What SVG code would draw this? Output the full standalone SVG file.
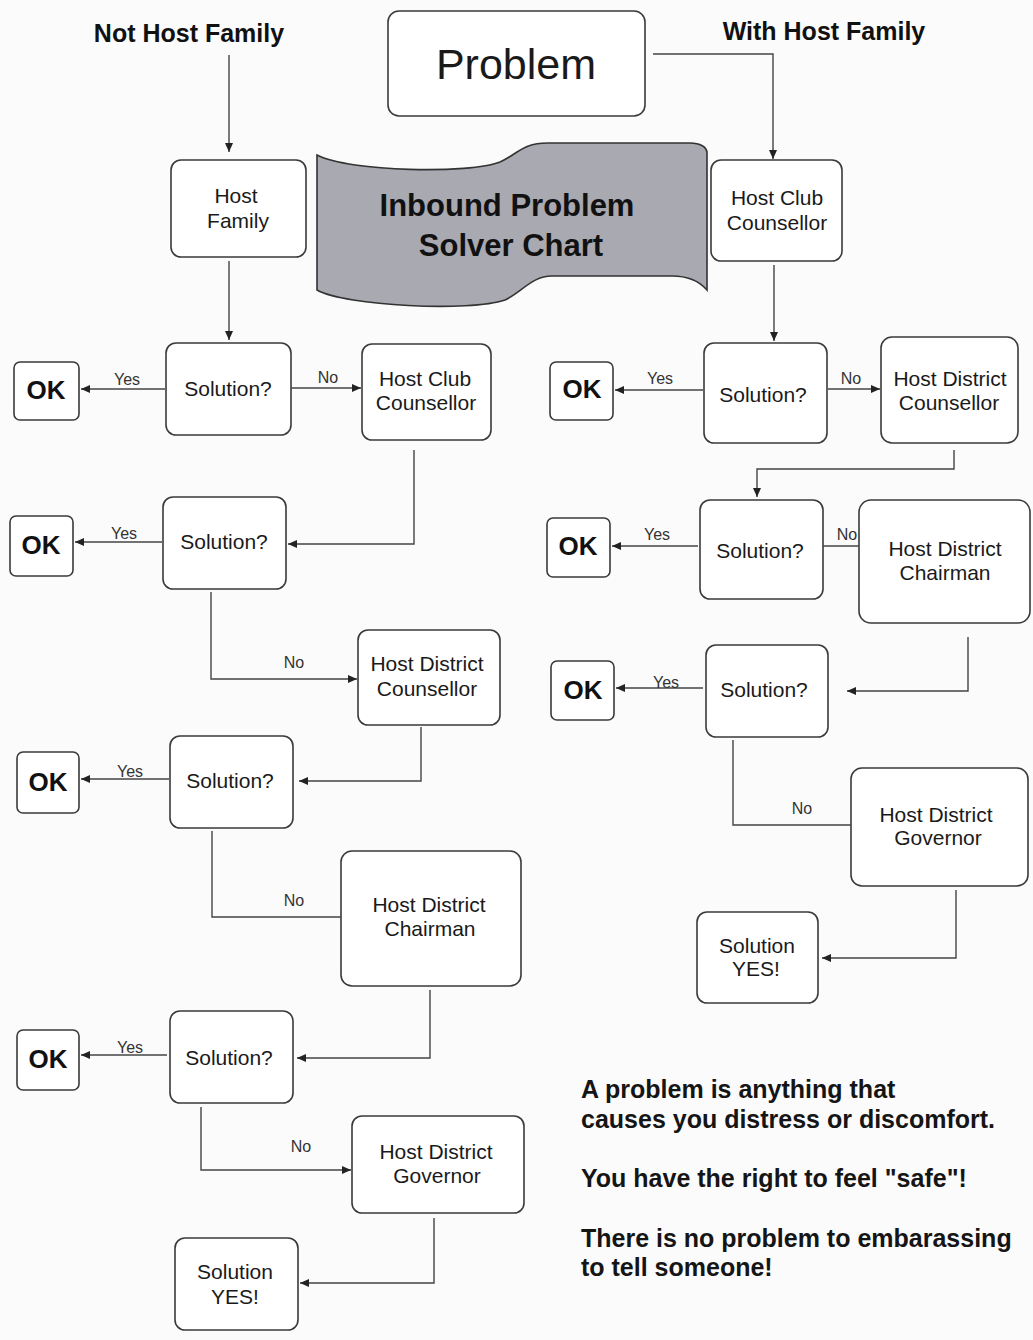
<svg xmlns="http://www.w3.org/2000/svg" width="1033" height="1340" viewBox="0 0 1033 1340">
<style>
.box{fill:#ffffff;stroke:#3a3a3a;stroke-width:1.6}
.t{font-family:"Liberation Sans",Arial,sans-serif;font-size:21px;fill:#1a1a1a;text-anchor:middle}
.ok{font-family:"Liberation Sans",Arial,sans-serif;font-size:26px;font-weight:bold;fill:#111;text-anchor:middle}
.lbl{font-family:"Liberation Sans",Arial,sans-serif;font-size:16px;fill:#333;text-anchor:middle}
.hd{font-family:"Liberation Sans",Arial,sans-serif;font-size:25px;font-weight:bold;fill:#111;text-anchor:middle}
.note{font-family:"Liberation Sans",Arial,sans-serif;font-size:25px;font-weight:bold;fill:#151515}
.c{fill:none;stroke:#444;stroke-width:1.4}
.ca{fill:none;stroke:#444;stroke-width:1.4;marker-end:url(#ah)}
</style>
<defs>
<marker id="ah" markerUnits="userSpaceOnUse" markerWidth="10" markerHeight="10" refX="9" refY="5" orient="auto">
<path d="M0,1 L9,5 L0,9 Z" fill="#222"/>
</marker>
</defs>
<rect x="0" y="0" width="1033" height="1340" fill="#fbfbfb"/>

<g id="headings">
<text class="hd" x="189" y="42">Not Host Family</text>
<text class="hd" x="824" y="40">With Host Family</text>
</g>

<g id="problem">
<rect class="box" x="388" y="11" width="257" height="105" rx="11"/>
<text x="516" y="79" font-family="'Liberation Sans',Arial,sans-serif" font-size="43" fill="#1a1a1a" text-anchor="middle">Problem</text>
</g>

<g id="banner">
<path d="M317,155 C350,172 470,174 500,162 C518,154 522,143 548,143 L690,143 C700,143 707,147 707,153 L707,290 C700,282 690,276 672,276 L552,276 C532,276 522,292 505,300 C470,312 345,306 317,290 Z" fill="#a9a9b1" stroke="#333" stroke-width="1.6"/>
<text x="507" y="216" font-family="'Liberation Sans',Arial,sans-serif" font-size="31" font-weight="bold" fill="#111" text-anchor="middle">Inbound Problem</text>
<text x="511" y="256" font-family="'Liberation Sans',Arial,sans-serif" font-size="31" font-weight="bold" fill="#111" text-anchor="middle">Solver Chart</text>
</g>

<!-- Left column nodes -->
<g id="host-family">
<rect class="box" x="171" y="160" width="135" height="97" rx="10"/>
<text class="t" x="236" y="203">Host</text>
<text class="t" x="238" y="228">Family</text>
</g>
<g id="l-sol1">
<rect class="box" x="166" y="343" width="125" height="92" rx="10"/>
<text class="t" x="228" y="396">Solution?</text>
</g>
<g id="l-ok1">
<rect class="box" x="14" y="362" width="65" height="58" rx="6"/>
<text class="ok" x="46" y="399">OK</text>
</g>
<g id="l-hcc">
<rect class="box" x="362" y="344" width="129" height="96" rx="10"/>
<text class="t" x="425" y="386">Host Club</text>
<text class="t" x="426" y="410">Counsellor</text>
</g>
<g id="l-sol2">
<rect class="box" x="163" y="497" width="123" height="92" rx="10"/>
<text class="t" x="224" y="549">Solution?</text>
</g>
<g id="l-ok2">
<rect class="box" x="10" y="516" width="63" height="60" rx="6"/>
<text class="ok" x="41" y="554">OK</text>
</g>
<g id="l-hdc">
<rect class="box" x="358" y="630" width="142" height="95" rx="10"/>
<text class="t" x="427" y="671">Host District</text>
<text class="t" x="427" y="696">Counsellor</text>
</g>
<g id="l-sol3">
<rect class="box" x="170" y="736" width="123" height="92" rx="10"/>
<text class="t" x="230" y="788">Solution?</text>
</g>
<g id="l-ok3">
<rect class="box" x="17" y="752" width="62" height="61" rx="6"/>
<text class="ok" x="48" y="791">OK</text>
</g>
<g id="l-hdch">
<rect class="box" x="341" y="851" width="180" height="135" rx="11"/>
<text class="t" x="429" y="912">Host District</text>
<text class="t" x="430" y="936">Chairman</text>
</g>
<g id="l-sol4">
<rect class="box" x="170" y="1011" width="123" height="92" rx="10"/>
<text class="t" x="229" y="1065">Solution?</text>
</g>
<g id="l-ok4">
<rect class="box" x="17" y="1030" width="62" height="60" rx="6"/>
<text class="ok" x="48" y="1068">OK</text>
</g>
<g id="l-hdg">
<rect class="box" x="352" y="1116" width="172" height="97" rx="10"/>
<text class="t" x="436" y="1159">Host District</text>
<text class="t" x="437" y="1183">Governor</text>
</g>
<g id="l-yes">
<rect class="box" x="175" y="1238" width="123" height="92" rx="10"/>
<text class="t" x="235" y="1279">Solution</text>
<text class="t" x="235" y="1304">YES!</text>
</g>

<!-- Right column nodes -->
<g id="r-hcc">
<rect class="box" x="711" y="160" width="131" height="101" rx="10"/>
<text class="t" x="777" y="205">Host Club</text>
<text class="t" x="777" y="230">Counsellor</text>
</g>
<g id="r-sol1">
<rect class="box" x="704" y="343" width="123" height="100" rx="10"/>
<text class="t" x="763" y="402">Solution?</text>
</g>
<g id="r-ok1">
<rect class="box" x="550" y="362" width="63" height="58" rx="6"/>
<text class="ok" x="582" y="398">OK</text>
</g>
<g id="r-hdc">
<rect class="box" x="881" y="337" width="137" height="106" rx="11"/>
<text class="t" x="950" y="386">Host District</text>
<text class="t" x="949" y="410">Counsellor</text>
</g>
<g id="r-sol2">
<rect class="box" x="700" y="500" width="123" height="99" rx="10"/>
<text class="t" x="760" y="558">Solution?</text>
</g>
<g id="r-ok2">
<rect class="box" x="547" y="518" width="63" height="59" rx="6"/>
<text class="ok" x="578" y="555">OK</text>
</g>
<g id="r-hdch">
<rect class="box" x="859" y="500" width="171" height="123" rx="12"/>
<text class="t" x="945" y="556">Host District</text>
<text class="t" x="945" y="580">Chairman</text>
</g>
<g id="r-sol3">
<rect class="box" x="706" y="645" width="122" height="92" rx="10"/>
<text class="t" x="764" y="697">Solution?</text>
</g>
<g id="r-ok3">
<rect class="box" x="551" y="661" width="63" height="59" rx="6"/>
<text class="ok" x="583" y="699">OK</text>
</g>
<g id="r-hdg">
<rect class="box" x="851" y="768" width="177" height="118" rx="11"/>
<text class="t" x="936" y="822">Host District</text>
<text class="t" x="938" y="845">Governor</text>
</g>
<g id="r-yes">
<rect class="box" x="697" y="912" width="121" height="91" rx="10"/>
<text class="t" x="757" y="953">Solution</text>
<text class="t" x="756" y="976">YES!</text>
</g>

<g id="connectors">
<path class="ca" d="M229,55 L229,152"/>
<path class="ca" d="M653,54 L773,54 L773,159"/>
<path class="ca" d="M229,261 L229,340"/>
<path class="ca" d="M165,389 L81,389"/>
<path class="ca" d="M291,388 L361,388"/>
<path class="ca" d="M414,450 L414,544 L288,544"/>
<path class="ca" d="M162,542 L75,542"/>
<path class="ca" d="M211,592 L211,679 L357,679"/>
<path class="ca" d="M421,727 L421,781 L299,781"/>
<path class="ca" d="M169,779 L81,779"/>
<path class="c" d="M212,831 L212,917 L341,917"/>
<path class="ca" d="M430,990 L430,1058 L297,1058"/>
<path class="ca" d="M167,1055 L81,1055"/>
<path class="ca" d="M201,1107 L201,1170 L351,1170"/>
<path class="ca" d="M434,1218 L434,1283 L300,1283"/>
<path class="ca" d="M774,265 L774,341"/>
<path class="ca" d="M703,390 L615,390"/>
<path class="ca" d="M828,389 L880,389"/>
<path class="ca" d="M954,450 L954,469 L757,469 L757,497"/>
<path class="ca" d="M698,546 L612,546"/>
<path class="c" d="M823,546 L859,546"/>
<path class="ca" d="M968,637 L968,691 L847,691"/>
<path class="ca" d="M703,688 L616,688"/>
<path class="c" d="M733,740 L733,825 L851,825"/>
<path class="ca" d="M956,890 L956,958 L822,958"/>
</g>

<g id="edge-labels">
<text class="lbl" x="127" y="385">Yes</text>
<text class="lbl" x="328" y="383">No</text>
<text class="lbl" x="124" y="539">Yes</text>
<text class="lbl" x="294" y="668">No</text>
<text class="lbl" x="130" y="777">Yes</text>
<text class="lbl" x="294" y="906">No</text>
<text class="lbl" x="130" y="1053">Yes</text>
<text class="lbl" x="301" y="1152">No</text>
<text class="lbl" x="660" y="384">Yes</text>
<text class="lbl" x="851" y="384">No</text>
<text class="lbl" x="657" y="540">Yes</text>
<text class="lbl" x="847" y="540">No</text>
<text class="lbl" x="666" y="688">Yes</text>
<text class="lbl" x="802" y="814">No</text>
</g>

<g id="note">
<text class="note" x="581" y="1098">A problem is anything that</text>
<text class="note" x="581" y="1128">causes you distress or discomfort.</text>
<text class="note" x="581" y="1187">You have the right to feel "safe"!</text>
<text class="note" x="581" y="1247">There is no problem to embarassing</text>
<text class="note" x="581" y="1276">to tell someone!</text>
</g>
</svg>
